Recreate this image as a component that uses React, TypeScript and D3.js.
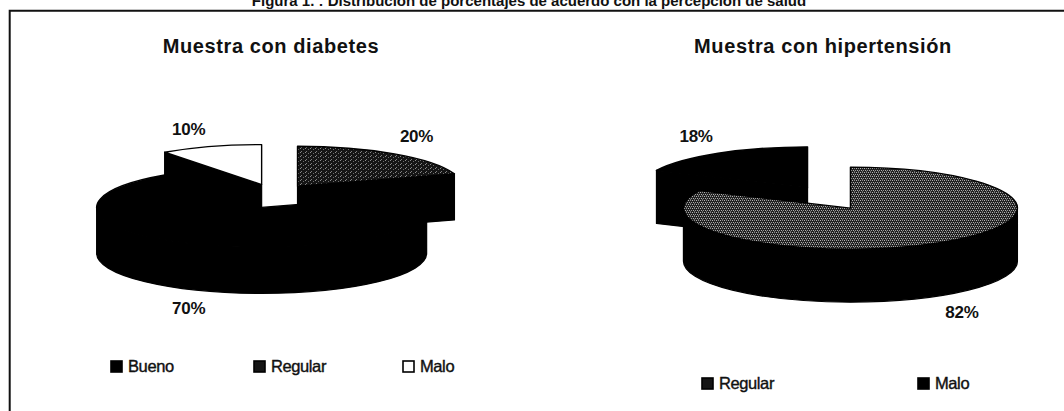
import React from "react";
import * as d3 from "d3";

const WIDTH = 1064;
const HEIGHT = 411;
const FONT = "'Liberation Sans', Arial, Helvetica, sans-serif";

const FIGURE_TITLE =
  "Figura 1. : Distribución de porcentajes de acuerdo con la percepción de salud";

const DIABETES_TITLE = "Muestra con diabetes";
const DIABETES_CATEGORIES = ["Bueno", "Regular", "Malo"];
const DIABETES_VALUES = [70, 20, 10];

const HYPERTENSION_TITLE = "Muestra con hipertensión";
const HYPERTENSION_CATEGORIES = ["Regular", "Malo"];
const HYPERTENSION_VALUES = [82, 18];

// Fill of each slice's top face and legend swatch, by category
const DIABETES_TOPS = ["#000000", "url(#speckleSparse)", "#ffffff"];
const DIABETES_SWATCHES = ["#000000", "#151515", "#ffffff"];
const HYPERTENSION_TOPS = ["url(#speckleDense)", "#000000"];
const HYPERTENSION_SWATCHES = ["#151515", "#000000"];

const EXPLODE_X = 40;
const EXPLODE_Y = 12;

type Pt = [number, number];

interface PieProps {
  cx: number;
  cy: number;
  rx: number;
  ry: number;
  depth: number;
  values: number[];
  tops: string[];
}

function Pie3D({ cx, cy, rx, ry, depth, values, tops }: PieProps) {
  const total = d3.sum(values);
  // slices run counter-clockwise; the last one ends at 12 o'clock
  const start = 2 * Math.PI * (1 - values[values.length - 1] / total);
  const pie = d3
    .pie<number>()
    .sort(null)
    .value((d) => d)
    .startAngle(start)
    .endAngle(start - 2 * Math.PI);

  const slices = pie(values).map((a, i) => {
    const a1 = Math.min(a.startAngle, a.endAngle);
    const a2 = Math.max(a.startAngle, a.endAngle);
    const mid = (a1 + a2) / 2;
    return {
      i,
      a1,
      a2,
      mid,
      x: cx + Math.sin(mid) * EXPLODE_X,
      y: cy - Math.cos(mid) * EXPLODE_Y,
    };
  });

  const P = (x: number, y: number, a: number, dy = 0): Pt => [
    x + rx * Math.sin(a),
    y - ry * Math.cos(a) + dy,
  ];
  const f = (p: Pt) => `${p[0].toFixed(2)},${p[1].toFixed(2)}`;

  const topPath = (x: number, y: number, a1: number, a2: number) => {
    const large = a2 - a1 > Math.PI ? 1 : 0;
    return `M${x},${y}L${f(P(x, y, a1))}A${rx},${ry} 0 ${large} 1 ${f(
      P(x, y, a2)
    )}Z`;
  };

  const outerWalls = (x: number, y: number, a1: number, a2: number) => {
    const paths: string[] = [];
    for (const k of [-1, 0, 1]) {
      const lo = Math.PI / 2 + k * 2 * Math.PI;
      const hi = (3 * Math.PI) / 2 + k * 2 * Math.PI;
      const b1 = Math.max(a1, lo);
      const b2 = Math.min(a2, hi);
      if (b2 - b1 > 1e-6) {
        const large = b2 - b1 > Math.PI ? 1 : 0;
        paths.push(
          `M${f(P(x, y, b1))}A${rx},${ry} 0 ${large} 1 ${f(P(x, y, b2))}L${f(
            P(x, y, b2, depth)
          )}A${rx},${ry} 0 ${large} 0 ${f(P(x, y, b1, depth))}Z`
        );
      }
    }
    return paths;
  };

  const radialWall = (x: number, y: number, a: number) =>
    `M${x},${y}L${f(P(x, y, a))}L${f(P(x, y, a, depth))}L${x},${y + depth}Z`;

  const order = [...slices].sort((p, q) => Math.cos(q.mid) - Math.cos(p.mid));

  return (
    <g>
      {order.map((s) => {
        const walls: string[] = [];
        if (Math.sin(s.a1) < -1e-6) walls.push(radialWall(s.x, s.y, s.a1));
        if (Math.sin(s.a2) > 1e-6) walls.push(radialWall(s.x, s.y, s.a2));
        walls.push(...outerWalls(s.x, s.y, s.a1, s.a2));
        return (
          <g key={s.i}>
            {walls.map((d, j) => (
              <path
                key={j}
                d={d}
                fill="#000"
                stroke="#000"
                strokeWidth={1.2}
                strokeLinejoin="round"
              />
            ))}
            <path
              d={topPath(s.x, s.y, s.a1, s.a2)}
              fill={tops[s.i]}
              stroke="#000"
              strokeWidth={1.4}
              strokeLinejoin="round"
            />
          </g>
        );
      })}
      {slices.map((s) => {
        const sx = s.x + rx * Math.sin(s.mid);
        const sy = s.y - ry * Math.cos(s.mid);
        const front = Math.cos(s.mid) < 0;
        const lx = sx + Math.sign(Math.sin(s.mid)) * 22;
        const ly = sy + (front ? depth + 17 : -17);
        return (
          <text
            key={`l${s.i}`}
            x={lx}
            y={ly}
            textAnchor="middle"
            dominantBaseline="central"
            fontFamily={FONT}
            fontWeight="bold"
            fontSize={17}
            letterSpacing={-0.3}
            fill="#111"
          >
            {`${Math.round((values[s.i] / total) * 100)}%`}
          </text>
        );
      })}
    </g>
  );
}

interface LegendProps {
  items: string[];
  swatches: string[];
  xs: number[];
  y: number;
}

function Legend({ items, swatches, xs, y }: LegendProps) {
  return (
    <g>
      {items.map((name, i) => (
        <g key={name} transform={`translate(${xs[i]},${y})`}>
          <rect
            x={0}
            y={-11}
            width={11}
            height={11}
            fill={swatches[i]}
            stroke="#000"
            strokeWidth={1.6}
          />
          <text
            x={17}
            y={0}
            fontFamily={FONT}
            fontSize={16.5}
            letterSpacing={-0.4}
            fill="#111"
            stroke="#111"
            strokeWidth={0.4}
          >
            {name}
          </text>
        </g>
      ))}
    </g>
  );
}

export default function App() {
  return (
    <div style={{ position: "absolute", left: 0, top: 0 }}>
      <svg
        width={WIDTH}
        height={HEIGHT}
        viewBox={`0 0 ${WIDTH} ${HEIGHT}`}
        style={{ display: "block", background: "#fff" }}
      >
        <defs>
          <pattern
            id="speckleDense"
            width={4}
            height={4}
            patternUnits="userSpaceOnUse"
          >
            <rect width={4} height={4} fill="#222" />
            <rect x={0} y={0} width={1} height={1} fill="#b5b5b5" />
            <rect x={2} y={0} width={1} height={1} fill="#8a8a8a" />
            <rect x={1} y={2} width={1} height={1} fill="#b0b0b0" />
            <rect x={3} y={2} width={1} height={1} fill="#9a9a9a" />
            <rect x={2} y={3} width={1} height={1} fill="#6a6a6a" />
          </pattern>
          <pattern
            id="speckleSparse"
            width={5}
            height={4}
            patternUnits="userSpaceOnUse"
          >
            <rect width={5} height={4} fill="#151515" />
            <rect x={0} y={0} width={1} height={1} fill="#8c8c8c" />
            <rect x={3} y={1} width={1} height={1} fill="#6e6e6e" />
            <rect x={1} y={3} width={1} height={1} fill="#7c7c7c" />
          </pattern>
        </defs>

        <text
          x={529}
          y={5.5}
          textAnchor="middle"
          fontFamily={FONT}
          fontWeight="bold"
          fontSize={15}
          fill="#111"
        >
          {FIGURE_TITLE}
        </text>

        <path
          d={`M9.7,${HEIGHT}V10.7H${WIDTH}`}
          fill="none"
          stroke="#111"
          strokeWidth={2}
        />

        <text
          x={271}
          y={53}
          textAnchor="middle"
          fontFamily={FONT}
          fontWeight="bold"
          fontSize={20}
          letterSpacing={0.6}
          fill="#111"
        >
          {DIABETES_TITLE}
        </text>
        <text
          x={823}
          y={53}
          textAnchor="middle"
          fontFamily={FONT}
          fontWeight="bold"
          fontSize={20}
          letterSpacing={0.6}
          fill="#111"
        >
          {HYPERTENSION_TITLE}
        </text>

        <Pie3D
          cx={274}
          cy={196}
          rx={165}
          ry={40}
          depth={46}
          values={DIABETES_VALUES}
          tops={DIABETES_TOPS}
        />
        <Pie3D
          cx={829}
          cy={198}
          rx={167}
          ry={41}
          depth={53}
          values={HYPERTENSION_VALUES}
          tops={HYPERTENSION_TOPS}
        />

        <Legend
          items={DIABETES_CATEGORIES}
          swatches={DIABETES_SWATCHES}
          xs={[111, 254, 403]}
          y={372}
        />
        <Legend
          items={HYPERTENSION_CATEGORIES}
          swatches={HYPERTENSION_SWATCHES}
          xs={[702, 918]}
          y={389}
        />
      </svg>
    </div>
  );
}
